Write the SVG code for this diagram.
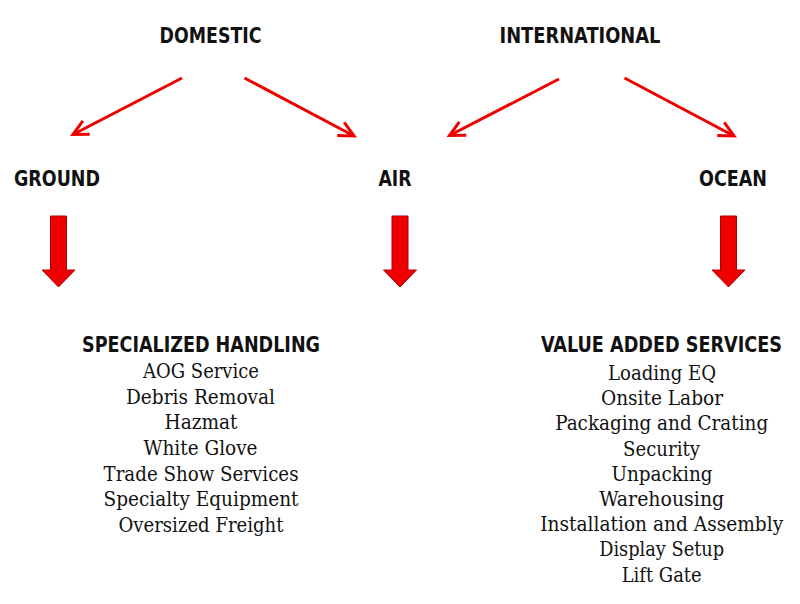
<svg xmlns="http://www.w3.org/2000/svg" width="800" height="604" viewBox="0 0 800 604">
<style>
.h{font-family:"DejaVu Sans Condensed","DejaVu Sans",sans-serif;font-weight:bold;font-size:21px;fill:#111;text-anchor:middle}
.t{font-family:"DejaVu Serif Condensed","DejaVu Serif",serif;font-size:20px;fill:#111;text-anchor:middle}
.ln{stroke:#ee0000;stroke-width:3;fill:none;marker-end:url(#ah)}
.blk{fill:#ee0000;stroke:#b00000;stroke-width:1}
</style>
<defs>
<marker id="ah" markerUnits="userSpaceOnUse" markerWidth="40" markerHeight="40" refX="0" refY="0" viewBox="-20 -20 40 40" orient="auto">
<path d="M-15,-7.5 L0,0 L-15,7.5" fill="none" stroke="#ee0000" stroke-width="3" stroke-linejoin="miter"/>
</marker>
</defs>
<rect width="800" height="604" fill="#fff"/>
<g id="domestic"><text class="h" x="210.5" y="43" textLength="102" lengthAdjust="spacingAndGlyphs">DOMESTIC</text></g>
<g id="international"><text class="h" x="580" y="43" textLength="161" lengthAdjust="spacingAndGlyphs">INTERNATIONAL</text></g>
<g id="ground"><text class="h" x="57" y="186" textLength="86" lengthAdjust="spacingAndGlyphs">GROUND</text></g>
<g id="air"><text class="h" x="395" y="186" textLength="33" lengthAdjust="spacingAndGlyphs">AIR</text></g>
<g id="ocean"><text class="h" x="733" y="186" textLength="68" lengthAdjust="spacingAndGlyphs">OCEAN</text></g>
<g id="connectors">
<line class="ln" x1="182" y1="78" x2="73" y2="134.5"/>
<line class="ln" x1="244.5" y1="78" x2="354" y2="136"/>
<line class="ln" x1="559" y1="79" x2="449.5" y2="135.5"/>
<line class="ln" x1="624.5" y1="78" x2="734" y2="136"/>
<path class="blk" d="M50.5,216 H66.5 V270 H75 L58.5,287 L42,270 H50.5 Z"/>
<path class="blk" d="M392,216 H408 V270 H416.5 L400,287 L383.5,270 H392 Z"/>
<path class="blk" d="M720.5,216 H736.5 V270 H745 L728.5,287 L712,270 H720.5 Z"/>
</g>
<g id="specialized">
<text class="h" x="201" y="352" textLength="238" lengthAdjust="spacingAndGlyphs">SPECIALIZED HANDLING</text>
<text class="t" x="201" y="378" textLength="116" lengthAdjust="spacingAndGlyphs">AOG Service</text>
<text class="t" x="200.5" y="403.7" textLength="149" lengthAdjust="spacingAndGlyphs">Debris Removal</text>
<text class="t" x="201" y="429.3" textLength="73" lengthAdjust="spacingAndGlyphs">Hazmat</text>
<text class="t" x="200.5" y="455" textLength="114" lengthAdjust="spacingAndGlyphs">White Glove</text>
<text class="t" x="201" y="480.7" textLength="195" lengthAdjust="spacingAndGlyphs">Trade Show Services</text>
<text class="t" x="201" y="506.3" textLength="195" lengthAdjust="spacingAndGlyphs">Specialty Equipment</text>
<text class="t" x="201" y="532" textLength="165" lengthAdjust="spacingAndGlyphs">Oversized Freight</text>
</g>
<g id="valueadded">
<text class="h" x="661.5" y="352" textLength="241" lengthAdjust="spacingAndGlyphs">VALUE ADDED SERVICES</text>
<text class="t" x="662" y="380" textLength="108" lengthAdjust="spacingAndGlyphs">Loading EQ</text>
<text class="t" x="662" y="405.2" textLength="122" lengthAdjust="spacingAndGlyphs">Onsite Labor</text>
<text class="t" x="661.7" y="430.4" textLength="213" lengthAdjust="spacingAndGlyphs">Packaging and Crating</text>
<text class="t" x="661.5" y="455.6" textLength="77" lengthAdjust="spacingAndGlyphs">Security</text>
<text class="t" x="662" y="480.8" textLength="101" lengthAdjust="spacingAndGlyphs">Unpacking</text>
<text class="t" x="661.7" y="506" textLength="125" lengthAdjust="spacingAndGlyphs">Warehousing</text>
<text class="t" x="661.7" y="531.2" textLength="243" lengthAdjust="spacingAndGlyphs">Installation and Assembly</text>
<text class="t" x="661.7" y="556.4" textLength="125" lengthAdjust="spacingAndGlyphs">Display Setup</text>
<text class="t" x="661.7" y="581.6" textLength="80" lengthAdjust="spacingAndGlyphs">Lift Gate</text>
</g>
</svg>
